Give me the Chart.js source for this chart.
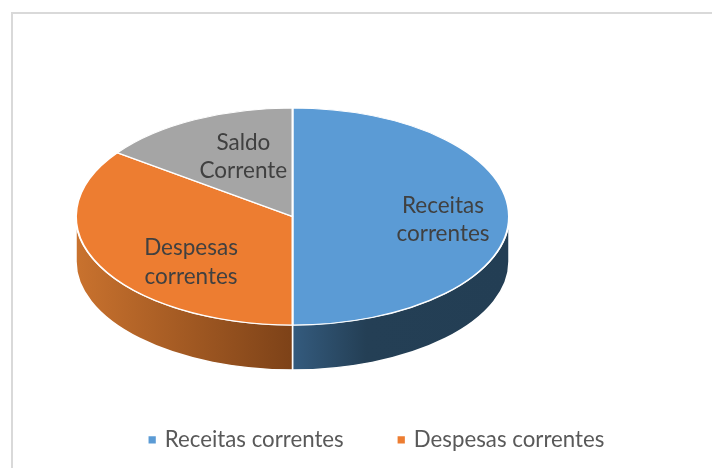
<!DOCTYPE html>
<html>
<head>
<meta charset="utf-8">
<script src="https://cdn.jsdelivr.net/npm/chart.js@4/dist/chart.umd.min.js"></script>
<style>
  html, body { margin: 0; padding: 0; background: #fff; overflow: hidden; }
  #frame { position: absolute; left: 11px; top: 12px; width: 720px; height: 480px;
           border-left: 2px solid #d9d9d9; border-top: 2px solid #d9d9d9; }
  canvas { position: absolute; left: 0; top: 0; display: block; }
</style>
</head>
<body>
<div id="frame"></div>
<canvas id="pie" width="712" height="468"></canvas>
<script>
const categories = ["Receitas correntes", "Despesas correntes", "Saldo Corrente"];
const values = [100, 70, 30];
const colors = ["#5B9BD5", "#ED7D31", "#A5A5A5"];

// side wall gradients, x fractions across the whole pie
const wallStops = [
  [[0.5, "#345B7E"], [0.67, "#243F55"], [1, "#233E54"]],
  [[0, "#C9722E"], [0.5, "#7D4218"]],
  [[0, "#7F7F7F"], [1, "#7F7F7F"]],
];

// ellipse of the top face + height of the wall
const cx = 292.5, cy = 216.5, rx = 216.5, ry = 108.5, depth = 45;

// label spot: share of radius along the slice's mid angle, then a nudge down
const labelSpots = [
  { r: 0.695, dy: 3 },
  { r: 0.526, dy: 20 },
  { r: 0.5, dy: -11.5 },
];

const pie3d = {
  id: "pie3d",
  afterLayout(chart) {
    // legend sits higher and off centre like the original
    const lg = chart.legend;
    lg.left += 21.5; lg.right += 21.5;
    lg.top -= 7; lg.bottom -= 7;
  },
  beforeDatasetDraw(chart, args) {
    const ctx = chart.ctx;
    args.meta.data.forEach((arc, i) => {
      const from = Math.max(arc.startAngle, 0);
      const to = Math.min(arc.endAngle, Math.PI);
      if (to <= from) return;
      const g = ctx.createLinearGradient(cx - rx, 0, cx + rx, 0);
      wallStops[i].forEach(s => g.addColorStop(s[0], s[1]));
      ctx.beginPath();
      ctx.ellipse(cx, cy, rx, ry, 0, from, to);
      ctx.ellipse(cx, cy + depth, rx, ry, 0, to, from, true);
      ctx.closePath();
      ctx.fillStyle = g;
      ctx.fill();
      ctx.strokeStyle = "#fff";
      ctx.lineWidth = 1.5;
      ctx.stroke();
    });
    ctx.save();
    const first = args.meta.data[0];
    ctx.translate(cx, cy);
    ctx.scale(rx / first.outerRadius, ry / first.outerRadius);
    ctx.translate(-first.x, -first.y);
  },
  afterDatasetDraw(chart, args) {
    const ctx = chart.ctx;
    ctx.restore();
    ctx.fillStyle = "#404040";
    ctx.font = "22.5px Lato";
    ctx.textAlign = "center";
    ctx.textBaseline = "middle";
    args.meta.data.forEach((arc, i) => {
      const mid = (arc.startAngle + arc.endAngle) / 2;
      const x = cx + Math.cos(mid) * rx * labelSpots[i].r;
      const y = cy + Math.sin(mid) * ry * labelSpots[i].r + labelSpots[i].dy;
      const lines = categories[i].split(" ");
      lines.forEach((line, k) => {
        ctx.fillText(line, x, y + (k - (lines.length - 1) / 2) * 28.5);
      });
    });
  },
};

new Chart(document.getElementById("pie"), {
  type: "pie",
  plugins: [pie3d],
  data: {
    labels: categories,
    datasets: [{
      data: values,
      backgroundColor: colors,
      borderColor: "#fff",
      borderWidth: 1.75,
      clip: false,
    }],
  },
  options: {
    responsive: false,
    animation: false,
    plugins: {
      tooltip: { enabled: false },
      legend: {
        position: "bottom",
        labels: {
          font: { family: "Lato", size: 22.25 },
          color: "#595959",
          usePointStyle: true,
          pointStyle: "rect",
          boxWidth: 3,
          boxHeight: 9,
          padding: 56,
          filter: item => item.index < 2,
        },
      },
    },
  },
});
</script>
</body>
</html>
